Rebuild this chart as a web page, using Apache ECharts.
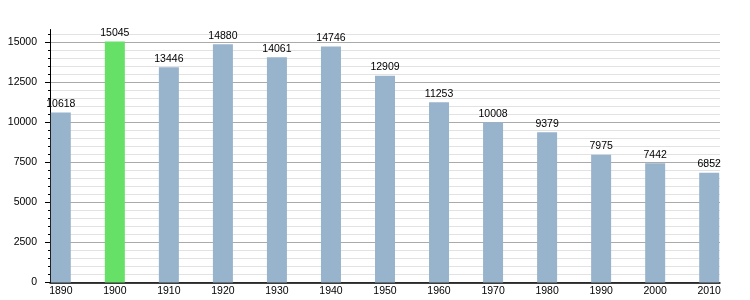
<!DOCTYPE html>
<html><head><meta charset="utf-8">
<script src="https://cdn.jsdelivr.net/npm/echarts@6/dist/echarts.min.js"></script>
<style>html,body{margin:0;padding:0;background:#fff}#c{width:750px;height:300px}</style>
</head><body><div id="c"></div>
<script>
const years = [1890,1900,1910,1920,1930,1940,1950,1960,1970,1980,1990,2000,2010];
const population = [10618,15045,13446,14880,14061,14746,12909,11253,10008,9379,7975,7442,6852];
const highlightYear = 1900;
const yTickLabels = [0,2500,5000,7500,10000,12500,15000];

const minorTicks = [];
for (let v = 0; v <= 15500; v += 500) minorTicks.push(v);
const minorColors = minorTicks.map(() => '#e2e2e2').concat(['rgba(0,0,0,0)']);
const majorColors = yTickLabels.map(() => '#aaaaaa').concat(['rgba(0,0,0,0)']);

const font = '"Liberation Sans", Arial, sans-serif';
const plain = v => String(v);
const chart = echarts.init(document.getElementById('c'));
chart.setOption({
  animation: false,
  grid: {left: 50, right: 30, top: 29.5, bottom: 17.5},
  xAxis: {
    type: 'value', min: 1888, max: 2012,
    axisLine: {show: true, lineStyle: {color: '#000', width: 1.5}},
    axisTick: {show: false},
    splitLine: {show: false},
    axisLabel: {customValues: years, formatter: plain, color: '#000', fontSize: 10.5, fontFamily: font, margin: 3}
  },
  yAxis: [
    {
      type: 'value', min: 0, max: 15800, interval: 500,
      axisLine: {show: true, lineStyle: {color: '#000', width: 1}},
      axisTick: {show: true, length: 2, lineStyle: {color: '#000'}, customValues: minorTicks},
      axisLabel: {show: false},
      splitLine: {show: true, lineStyle: {color: minorColors, width: 1}}
    },
    {
      type: 'value', min: 0, max: 15800, interval: 2500, position: 'left',
      axisLine: {show: false},
      axisTick: {show: true, length: 5, lineStyle: {color: '#000'}, customValues: yTickLabels},
      axisLabel: {customValues: yTickLabels, formatter: plain, color: '#000', fontSize: 10.5, fontFamily: font, margin: 13},
      splitLine: {show: true, lineStyle: {color: majorColors, width: 1}}
    }
  ],
  series: [{
    type: 'bar', yAxisIndex: 0, barWidth: 20,
    data: years.map((y, i) => ({
      value: [y, population[i]],
      itemStyle: {color: y === highlightYear ? '#66e066' : '#98b3cc'}
    })),
    label: {show: true, position: 'top', distance: 3, color: '#000', fontSize: 10.5, fontFamily: font,
      formatter: p => String(p.value[1])}
  }]
});
</script></body></html>
